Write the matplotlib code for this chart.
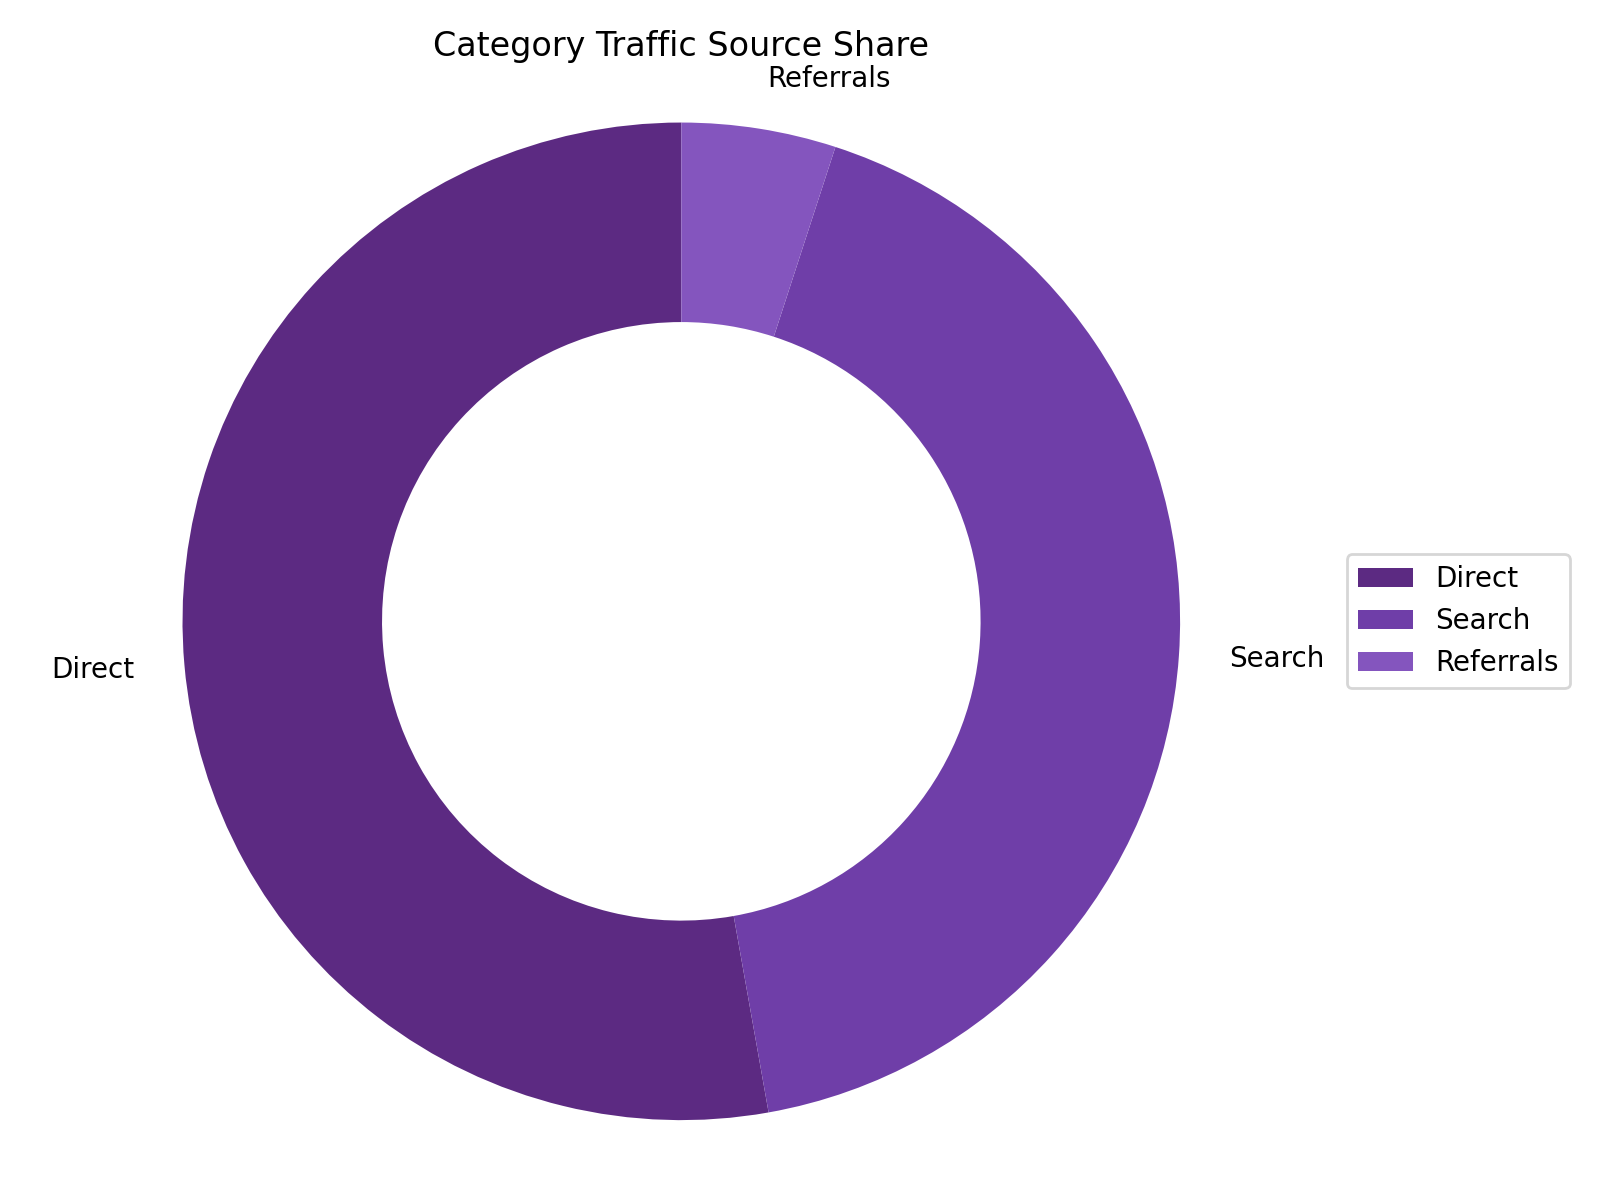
import matplotlib
matplotlib.use("Agg")
import matplotlib.pyplot as plt

categories = ["Direct", "Search", "Referrals"]
values = [52.8, 42.2, 5.0]
colors = ["#5C2A82", "#6F3EA8", "#8455BE"]

fig, ax = plt.subplots(figsize=(8, 6), dpi=200)
wedges, texts = ax.pie(values, labels=categories, colors=colors, startangle=90,
                       counterclock=True, wedgeprops=dict(width=0.4))
ax.set_title("Category Traffic Source Share")
ax.axis("equal")
ax.legend(wedges, categories, loc="center left", bbox_to_anchor=(1, 0.5))
plt.tight_layout()
fig.savefig("out.png", dpi=200)
